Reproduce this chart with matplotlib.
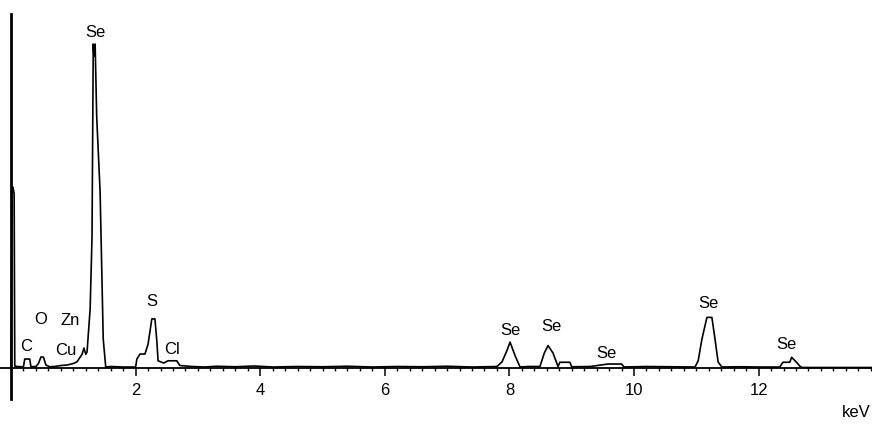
import matplotlib.pyplot as plt
from matplotlib.ticker import MultipleLocator

plt.rcParams['font.family'] = ['Liberation Sans', 'DejaVu Sans']

# EDS spectrum (keV, counts)
energy_kev = [
    0.00, 0.02, 0.03, 0.05, 0.06, 0.10, 0.16, 0.20, 0.22, 0.30, 0.32, 0.40,
    0.44, 0.48, 0.52, 0.56, 0.62, 0.70, 0.80, 0.90, 1.00, 1.06, 1.10, 1.14,
    1.17, 1.20, 1.22, 1.27, 1.30, 1.32, 1.33, 1.35, 1.375, 1.43, 1.48, 1.52,
    1.60, 1.80, 2.00, 2.02, 2.07, 2.15, 2.20, 2.26, 2.31, 2.34, 2.36, 2.45,
    2.52, 2.66, 2.71, 2.90, 3.10, 3.30, 3.60, 3.90, 4.20, 4.60, 5.00, 5.40,
    5.80, 6.20, 6.60, 7.00, 7.40, 7.80, 7.88, 7.96, 8.01, 8.09, 8.17, 8.30,
    8.49, 8.56, 8.62, 8.70, 8.78, 8.81, 8.97, 9.00, 9.30, 9.58, 9.80, 9.84,
    10.20, 10.60, 10.98, 11.03, 11.09, 11.17, 11.25, 11.30, 11.35, 11.41, 11.70,
    12.00, 12.34, 12.39, 12.50, 12.53, 12.62, 12.66, 12.70, 12.80, 13.90,
]
counts = [
    0, 726, 726, 700, 8, 6, 5, 5, 36, 36, 5, 6,
    18, 44, 44, 12, 5, 6, 10, 12, 18, 25, 40, 55,
    80, 55, 64, 237, 525, 1300, 1250, 1300, 1010, 705, 116, 4,
    6, 4, 4, 36, 56, 56, 96, 197, 197, 110, 29, 20,
    29, 29, 10, 6, 4, 7, 5, 8, 4, 6, 5, 7,
    4, 6, 5, 7, 4, 6, 24, 70, 104, 50, 4, 6,
    6, 60, 90, 60, 6, 23, 23, 5, 6, 16, 16, 4,
    6, 5, 4, 29, 116, 203, 203, 116, 24, 4, 5,
    4, 4, 23, 23, 43, 20, 8, 2, 2, 2,
]

# peak labels (text, keV, counts)
peak_names = ['Se', 'C', 'O', 'Zn', 'Cu', 'S', 'Cl', 'Se', 'Se', 'Se', 'Se', 'Se']
peak_kev = [1.36, 0.24, 0.48, 0.95, 0.88, 2.26, 2.58, 8.01, 8.67, 9.55, 11.19, 12.44]
peak_counts = [1352, 92, 197, 193, 76, 269, 80, 156, 172, 64, 261, 100]

tick_values = [2, 4, 6, 8, 10, 12]

fig = plt.figure(figsize=(8.72, 4.27), dpi=100)
ax = fig.add_axes([0, 0, 1, 1])
ax.set_xlim(-0.177, 13.82)
ax.set_ylim(-232.7, 1480.6)

ax.plot(energy_kev, counts, color='black', lw=1.2)

for name, x, y in zip(peak_names, peak_kev, peak_counts):
    ax.text(x, y, name, ha='center', va='center', fontsize=12)

ax.text(13.33, -176, 'keV', ha='left', va='center', fontsize=12)

for side in ['top', 'right']:
    ax.spines[side].set_visible(False)
ax.spines['bottom'].set_position(('data', 0))
ax.spines['bottom'].set_linewidth(1.3)
ax.spines['left'].set_position(('data', 0))
ax.spines['left'].set_bounds(-124, 1420)
ax.spines['left'].set_linewidth(2.0)

ax.set_xticks(tick_values)
ax.set_xticklabels([str(t) for t in tick_values], fontsize=12)
ax.xaxis.set_minor_locator(MultipleLocator(0.2))
ax.tick_params(axis='x', which='major', direction='out', length=6, width=1.1, pad=4)
ax.tick_params(axis='x', which='minor', direction='out', length=2.5, width=1.0)
ax.set_yticks([])

fig.savefig('out.png', dpi=100)
